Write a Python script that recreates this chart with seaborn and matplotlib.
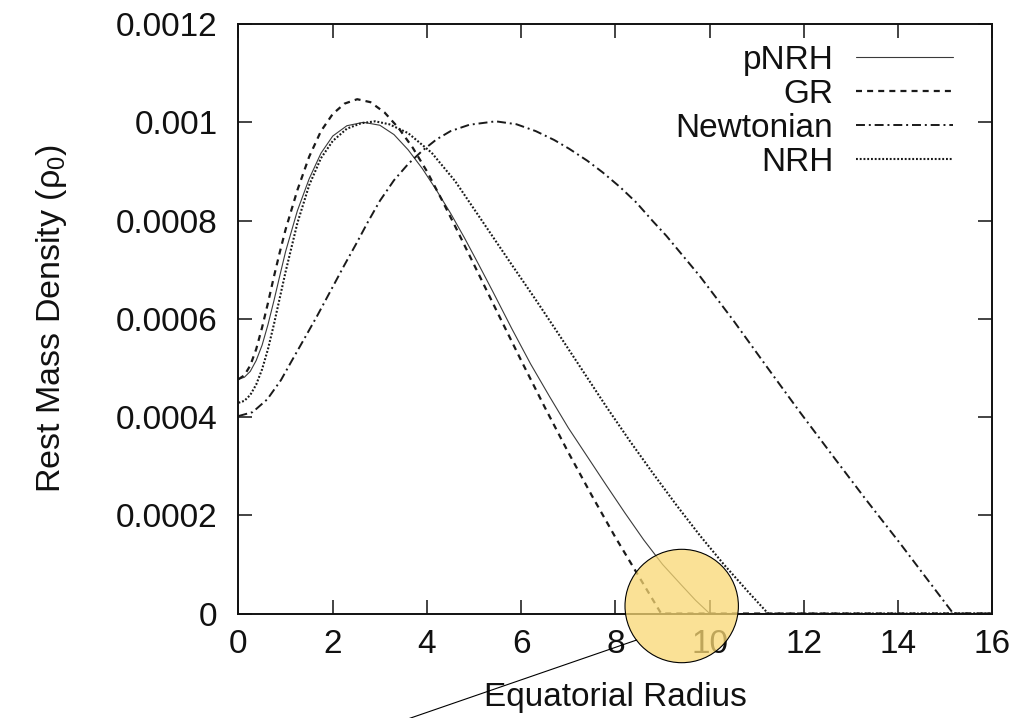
import numpy as np
import pandas as pd
import matplotlib
matplotlib.use('Agg')
import matplotlib.pyplot as plt
import seaborn as sns
from matplotlib.patches import Circle
from matplotlib.lines import Line2D
from matplotlib.transforms import IdentityTransform

# density profiles, values in units of 1e-4
x_pnrh = [0, 0.125, 0.25, 0.375, 0.5, 0.625, 0.75, 0.875, 1.0, 1.25, 1.5, 1.75, 2.0, 2.3,
          2.65, 3.0, 3.3, 3.6, 3.9, 4.2, 4.5, 4.8, 5.1, 5.4, 5.8, 6.2, 6.6, 7.0, 7.4,
          7.8, 8.2, 8.6, 9.0, 9.4, 9.7, 10.0, 16]
y_pnrh = [4.77, 4.81, 4.93, 5.15, 5.46, 5.88, 6.36, 6.87, 7.37, 8.2, 8.85, 9.37, 9.72, 9.93,
          10.0, 9.94, 9.75, 9.44, 9.06, 8.62, 8.15, 7.64, 7.1, 6.55, 5.8, 5.08, 4.42, 3.78, 3.2,
          2.62, 2.05, 1.5, 1.0, 0.58, 0.27, 0.0, 0.0]

x_gr = [0, 0.125, 0.25, 0.375, 0.5, 0.625, 0.75, 0.875, 1.0, 1.25, 1.5, 1.75, 2.0, 2.25,
        2.52, 2.8, 3.1, 3.4, 3.7, 4.0, 4.3, 4.6, 5.0, 5.5, 6.0, 6.5, 7.0, 7.5, 8.0, 8.5, 8.97, 16]
y_gr = [4.77, 4.85, 5.05, 5.38, 5.82, 6.32, 6.85, 7.35, 7.82, 8.62, 9.3, 9.82, 10.17, 10.38,
        10.47, 10.41, 10.2, 9.88, 9.48, 9.0, 8.45, 7.88, 7.1, 6.12, 5.15, 4.2, 3.28, 2.4, 1.55, 0.75,
        0.0, 0.0]

x_newt = [0, 0.3, 0.61, 0.9, 1.11, 1.4, 1.67, 2.0, 2.24, 2.5, 2.74, 3.0, 3.3, 3.6, 3.9,
          4.2, 4.5, 4.9, 5.46, 5.9, 6.31, 6.7, 7.02, 7.4, 7.73, 8.1, 8.44, 8.8, 9.08, 9.4,
          9.79, 10.5, 11.2, 11.9, 12.62, 13.3, 14.04, 14.6, 15.17, 16]
y_newt = [4.02, 4.1, 4.36, 4.75, 5.11, 5.6, 6.06, 6.65, 7.08, 7.53, 7.96, 8.4, 8.82, 9.15, 9.42,
          9.65, 9.82, 9.95, 10.02, 9.96, 9.82, 9.64, 9.46, 9.22, 8.98, 8.68, 8.37, 7.98, 7.69, 7.32,
          6.87, 5.97, 5.04, 4.12, 3.2, 2.34, 1.43, 0.72, 0.0, 0.0]

x_nrh = [0, 0.125, 0.25, 0.375, 0.5, 0.625, 0.75, 0.875, 1.0, 1.25, 1.5, 1.75, 2.0, 2.3,
         2.6, 2.9, 3.2, 3.6, 4.1, 4.6, 5.2, 5.8, 6.3, 6.8, 7.3, 7.8, 8.3, 8.8, 9.3, 9.8,
         10.3, 10.8, 11.24, 16]
y_nrh = [4.29, 4.33, 4.45, 4.66, 4.97, 5.38, 5.88, 6.42, 6.96, 7.95, 8.72, 9.27, 9.62, 9.87,
         9.98, 10.02, 9.96, 9.78, 9.38, 8.8, 7.95, 7.1, 6.4, 5.68, 4.95, 4.22, 3.52, 2.85, 2.2, 1.58,
         1.0, 0.46, 0.0, 0.0]

y_ticks = [0, 0.0002, 0.0004, 0.0006, 0.0008, 0.001, 0.0012]
y_ticklabels = ['0', '0.0002', '0.0004', '0.0006', '0.0008', '0.001', '0.0012']
x_ticks = [0, 2, 4, 6, 8, 10, 12, 14, 16]

sns.set_style('ticks')
plt.rcParams['font.family'] = ['Liberation Sans', 'DejaVu Sans']
plt.rcParams['mathtext.fontset'] = 'custom'
plt.rcParams['mathtext.rm'] = 'Liberation Sans'
plt.rcParams['mathtext.it'] = 'Liberation Sans:italic'

fig = plt.figure(figsize=(10.32, 7.18), dpi=100)
ax = fig.add_axes([0.2311, 0.1455, 0.7305, 0.821])

series = [
    ('pNRH', x_pnrh, y_pnrh, dict(color='#3a3a3a', linewidth=0.8, linestyle='-')),
    ('GR', x_gr, y_gr, dict(color='#1a1a1a', linewidth=1.6, linestyle=(0, (2.7, 2.3)))),
    ('Newtonian', x_newt, y_newt, dict(color='#1a1a1a', linewidth=1.4, linestyle=(0, (4.6, 2.0, 1.0, 2.0)))),
    ('NRH', x_nrh, y_nrh, dict(color='#1a1a1a', linewidth=1.5, linestyle=(0, (0.9, 0.9)))),
]

for name, xs, ys, kw in series:
    df = pd.DataFrame({'r': xs, 'rho': np.array(ys) * 1e-4})
    sns.lineplot(data=df, x='r', y='rho', ax=ax, sort=False, estimator=None,
                 label=name, **kw)

ax.set_xlim(0, 16)
ax.set_ylim(0, 0.0012)
ax.set_xticks(x_ticks)
ax.set_xticklabels([str(t) for t in x_ticks])
ax.set_yticks(y_ticks)
ax.set_yticklabels(y_ticklabels)

for s in ax.spines.values():
    s.set_linewidth(1.4)
    s.set_color('#111111')
ax.tick_params(axis='both', which='major', direction='in', length=10, width=1.1,
               top=True, right=True, labelsize=24, colors='#111111')
ax.tick_params(axis='y', pad=15)
ax.tick_params(axis='x', pad=11)

ax.set_xlabel('Equatorial Radius', fontsize=24, labelpad=16, color='#111111')
ax.set_ylabel(r'Rest Mass Density (ρ$_0$)', fontsize=24.5, labelpad=34, color='#111111')

leg = ax.legend(loc='upper right', bbox_to_anchor=(953 / 1032, 673 / 718),
                bbox_transform=fig.transFigure, frameon=False, markerfirst=False,
                fontsize=24, handlelength=2.9, handletextpad=0.69, labelspacing=0.09,
                borderpad=0, borderaxespad=0)
for t in leg.get_texts():
    t.set_color('#111111')

# highlight circle and pointer drawn over the chart
circ = Circle((681.7, 112), 56.7, transform=IdentityTransform(), facecolor='#F9D873',
              alpha=0.75, edgecolor='none', zorder=10)
fig.add_artist(circ)
circ_edge = Circle((681.7, 112), 56.7, transform=IdentityTransform(), facecolor='none',
                   edgecolor='black', linewidth=0.8, zorder=11)
fig.add_artist(circ_edge)
fig.add_artist(Line2D([636.7, 395], [78, -5.4], transform=IdentityTransform(),
                      color='black', linewidth=0.8, zorder=11))

fig.savefig('out.png', dpi=100)
